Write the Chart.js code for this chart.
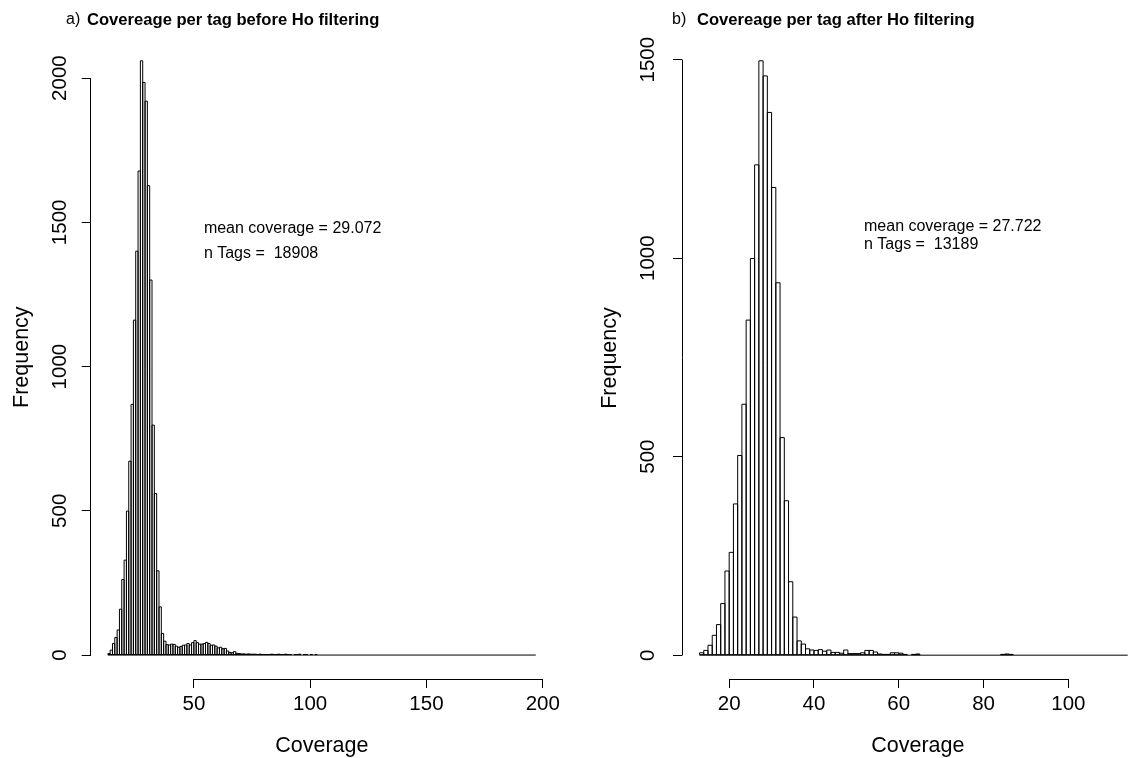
<!DOCTYPE html>
<html><head><meta charset="utf-8">
<script src="https://cdn.jsdelivr.net/npm/chart.js@4.4.1/dist/chart.umd.min.js"></script>
<style>
html,body{margin:0;padding:0;background:#fff;overflow:hidden;width:1128px;height:758px;}
#wrapA{position:absolute;left:0;top:0;width:564px;height:758px;}
#wrapB{position:absolute;left:564px;top:0;width:592px;height:758px;}
canvas{display:block}
</style></head><body>
<div id="wrapA"><canvas id="cA" width="564" height="758"></canvas></div>
<div id="wrapB"><canvas id="cB" width="592" height="758"></canvas></div>
<script>
// ---------- data ----------
const beforeBinStart = 13;   // left edge of first bin, width 1
const beforeCounts = [
  5,17,40,61,87,159,262,329,499,672,869,1161,1400,1678,2060,1985,1920,1627,1300,797,560,292,167,75,
  48,36,35,38,37,31,27,30,34,35,40,35,43,50,43,38,38,40,44,40,34,35,31,25,27,22,23,14,9,8,12,6,
  5,4,4,3,4,3,3,3,2,3,2,2,2,2,3,2,2,3,2,2,3,2,2,1,2,2,3,1,2,2,1,2,
  1,2,1,1,1,0,1,1,0,1,1,0,1,0,1,1,0,0,1,0,
  1,0,0,1,0,1,0,0,1,0,0,1,0,1,0,0,0,1,0,1,
  0,0,1,0,0,0,1,0,0,0,1,0,0,0,0,1,0,0,0,0,
  1,0,0,0,0,0,1,0,0,0,0,0,0,1,0,0,0,0,0,0,
  1,0,0,0,0,0,0,1,0,0,0,0,0,0,0,1
];
const afterBinStart = 13;
const afterCounts = [
  6,12,25,50,77,130,212,259,381,503,632,844,999,1235,1497,1459,1367,1178,938,548,389,185,96,36,28,16,
  13,12,14,10,13,7,7,5,13,4,4,4,6,12,12,8,3,2,2,6,6,5,2,1,2,3,1,1,
  0,1,0,1,1,0,1,0,1,0,1,0,1,1,0,1,1,2,3,2,0,1,0,1,0,1,0,1,0,0,1,0,0,1,0,0,0,1,0,0,1,0,0,1,0,0,1
];
const beforeXTicks = [50,100,150,200];
const beforeYTicks = [0,500,1000,1500,2000];
const afterXTicks = [20,40,60,80,100];
const afterYTicks = [0,500,1000,1500];
const beforeNote = ["mean coverage = 29.072", "n Tags =  18908"];
const afterNote  = ["mean coverage = 27.722", "n Tags =  13189"];
const beforeTitle = ["a)", "Covereage per tag before Ho filtering"];
const afterTitle  = ["b)", "Covereage per tag after Ho filtering"];
const xLabel = "Coverage";
const yLabel = "Frequency";

const FONT = "'Liberation Sans', Arial, Helvetica, sans-serif";

function alignPx(p){ return Math.round(p - 0.5) + 0.5; }

const rStyle = {
  id: 'rStyle',
  afterDatasetsDraw(chart, args, o) {
    const ctx = chart.ctx, xs = chart.scales.x, ys = chart.scales.y, ca = chart.chartArea;
    ctx.save();
    ctx.beginPath(); ctx.rect(ca.left, ca.top, ca.right - ca.left, ca.bottom - ca.top); ctx.clip();
    ctx.strokeStyle = '#000'; ctx.lineWidth = 1;
    // outline every bar (R hist style: one line on each bin edge)
    const meta = chart.getDatasetMeta(0);
    ctx.beginPath();
    meta.data.forEach(el => {
      const p = el.getProps(['x', 'y', 'base', 'width'], true);
      const h = p.base - p.y;
      if (h > 0.01) ctx.rect(p.x - p.width / 2, p.y, p.width, h);
    });
    ctx.stroke();
    // baseline under all bins (zero-count bins included)
    const y0 = ys.getPixelForValue(0);
    ctx.beginPath();
    ctx.moveTo(xs.getPixelForValue(o.binStart), y0);
    ctx.lineTo(xs.getPixelForValue(o.binStart + o.nBins), y0);
    ctx.stroke();
    ctx.restore();
  },
  afterDraw(chart, args, o) {
    const ctx = chart.ctx, xs = chart.scales.x, ys = chart.scales.y, ca = chart.chartArea;
    ctx.save();
    ctx.strokeStyle = '#000'; ctx.lineWidth = 1;
    // R-style axis lines spanning first..last tick
    const yb = alignPx(ca.bottom);
    ctx.beginPath();
    ctx.moveTo(alignPx(xs.getPixelForValue(o.xTicks[0])), yb);
    ctx.lineTo(alignPx(xs.getPixelForValue(o.xTicks[o.xTicks.length-1])), yb);
    ctx.stroke();
    const xl = alignPx(ca.left);
    ctx.beginPath();
    ctx.moveTo(xl, alignPx(ys.getPixelForValue(o.yTicks[0])));
    ctx.lineTo(xl, alignPx(ys.getPixelForValue(o.yTicks[o.yTicks.length-1])));
    ctx.stroke();
    // note text placed in data coordinates
    ctx.fillStyle = '#000';
    ctx.textAlign = 'left'; ctx.textBaseline = 'middle';
    ctx.font = o.noteSize + 'px ' + FONT;
    o.note.forEach((t, i) => {
      ctx.fillText(t, xs.getPixelForValue(o.noteX), ys.getPixelForValue(o.noteY[i]));
    });
    // panel title
    ctx.font = o.tagSize + 'px ' + FONT;
    ctx.fillText(o.title[0], o.tagX, o.titleY);
    ctx.font = 'bold ' + o.titleSize + 'px ' + FONT;
    ctx.fillText(o.title[1], o.titleX, o.titleY);
    ctx.restore();
  }
};

function makeChart(id, p) {
  const data = p.counts.map((c, i) => ({ x: p.binStart + i + 0.5, y: c }));
  return new Chart(document.getElementById(id), {
    type: 'bar',
    data: { datasets: [{
      data,
      backgroundColor: '#ffffff',
      borderWidth: 0,
      inflateAmount: 0,
      barPercentage: 1,
      categoryPercentage: 1
    }]},
    options: {
      responsive: false,
      animation: false,
      devicePixelRatio: 1,
      layout: { padding: p.padding },
      plugins: {
        legend: { display: false },
        tooltip: { enabled: false },
        rStyle: {
          binStart: p.binStart, nBins: p.counts.length,
          xTicks: p.xTicks, yTicks: p.yTicks,
          note: p.note, noteX: p.noteX, noteY: p.noteY, noteSize: 16,
          title: p.title, tagX: p.tagX, titleX: p.titleX, titleY: 20,
          tagSize: 16, titleSize: 16.6
        }
      },
      scales: {
        x: {
          type: 'linear', min: p.xMin, max: p.xMax, offset: false,
          afterBuildTicks: s => { s.ticks = p.xTicks.map(v => ({ value: v })); },
          afterFit: s => { s.height = p.xHeight; },
          grid: { display: true, drawOnChartArea: false, drawTicks: true, tickLength: 9, color: '#000', offset: false },
          border: { display: false },
          ticks: { autoSkip: false, maxRotation: 0, color: '#000', padding: 4,
                   callback: v => String(v),
                   font: { family: FONT, size: 20.5 } },
          title: { display: true, text: xLabel, color: '#000',
                   font: { family: FONT, size: 21.5, lineHeight: 1.1 }, padding: { top: 0, bottom: 0 } }
        },
        y: {
          type: 'linear', min: p.yMin, max: p.yMax,
          afterBuildTicks: s => { s.ticks = p.yTicks.map(v => ({ value: v })); },
          afterFit: s => { s.width = p.yWidth; },
          grid: { display: true, drawOnChartArea: false, drawTicks: true, tickLength: 9, color: '#000' },
          border: { display: false },
          ticks: { autoSkip: false, minRotation: 90, maxRotation: 90, crossAlign: 'center',
                   callback: v => String(v),
                   padding: p.yTickPad, color: '#000', font: { family: FONT, size: 20.5 } },
          title: { display: true, text: yLabel, color: '#000',
                   font: { family: FONT, size: 21.5, lineHeight: 1.2 }, padding: { top: 9.1, bottom: 0 } }
        }
      }
    },
    plugins: [rStyle]
  });
}

makeChart('cA', {
  binStart: beforeBinStart, counts: beforeCounts,
  xTicks: beforeXTicks, yTicks: beforeYTicks,
  xMin: 5.64, xMax: 204.4, yMin: -83, yMax: 2148,
  padding: { left: 0, top: 35.4, right: 6.3, bottom: 0 },
  yWidth: 90.7, xHeight: 79, yTickPad: -1,
  note: beforeNote, noteX: 54.3, noteY: [1480, 1393],
  title: beforeTitle, tagX: 66, titleX: 87
});

makeChart('cB', {
  binStart: afterBinStart, counts: afterCounts,
  xTicks: afterXTicks, yTicks: afterYTicks,
  xMin: 8.87, xMax: 120.13, yMin: -60, yMax: 1557,
  padding: { left: 24, top: 37, right: 2.3, bottom: 0 },
  yWidth: 94, xHeight: 79, yTickPad: 2,
  note: afterNote, noteX: 51.8, noteY: [1080, 1035],
  title: afterTitle, tagX: 108, titleX: 133
});
</script>
</body></html>
